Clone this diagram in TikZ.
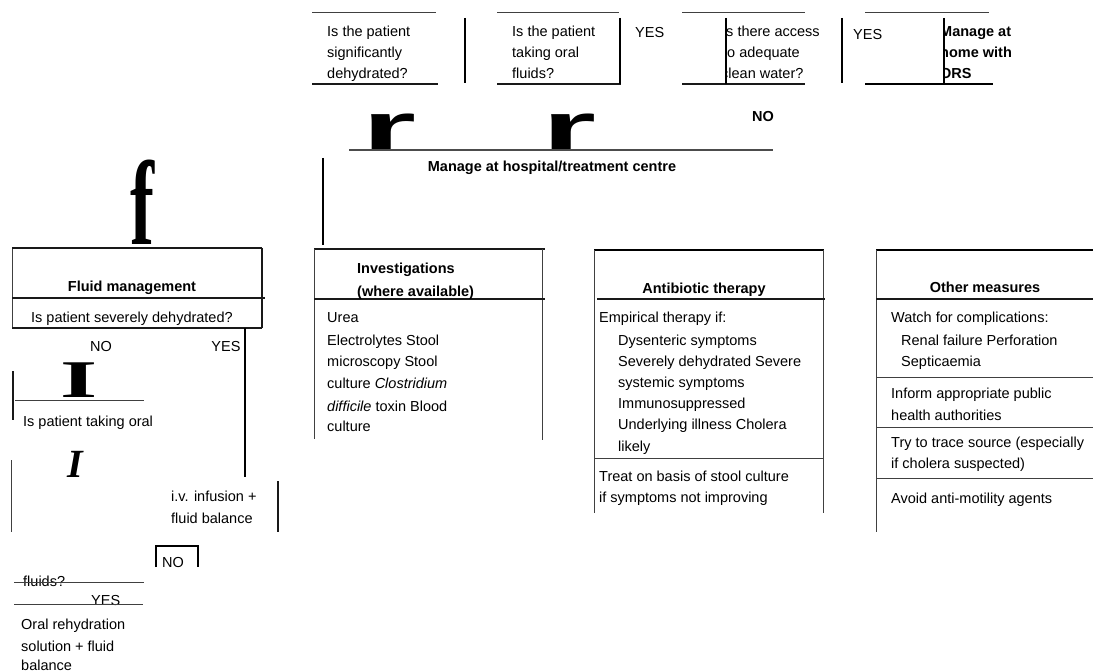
\documentclass[tikz,border=0pt]{standalone}
\usepackage{fontspec}
\setmainfont{Liberation Sans}
\newfontfamily\bigserif{Liberation Serif}
\begin{document}
\begin{tikzpicture}[x=1pt,y=-1pt,
  txt/.style={anchor=base west, inner sep=0pt, font=\fontsize{14.5}{17}\selectfont},
  btxt/.style={anchor=base west, inner sep=0pt, font=\fontsize{14.5}{17}\selectfont\bfseries},
  ctxt/.style={anchor=base, inner sep=0pt, font=\fontsize{14.5}{17}\selectfont},
  cbtxt/.style={anchor=base, inner sep=0pt, font=\fontsize{14.5}{17}\selectfont\bfseries},
  lnthin/.style={line width=0.8pt, draw=black!75},
  lnmed/.style={line width=1.3pt, draw=black!90},
  lnbold/.style={line width=2.4pt, draw=black},
  glyph/.style={anchor=base west, inner sep=0pt}]
\useasboundingbox (0,0) rectangle (1093,671);

% ---------- top row ----------
\draw[lnthin] (312,12) -- (436,12);
\draw[lnmed] (312,84) -- (438,84);
\draw[lnbold] (465,18) -- (465,83);
\node[txt] (q1a) at (327,37) {Is the patient};
\node[txt] (q1b) at (327,58) {significantly};
\node[txt] (q1c) at (327,79) {dehydrated?};

\draw[lnthin] (497,12) -- (619,12);
\draw[lnmed] (497,84) -- (621,84);
\draw[lnbold] (620,18) -- (620,84);
\node[txt] (q2a) at (512,37) {Is the patient};
\node[txt] (q2b) at (512,58) {taking oral};
\node[txt] (q2c) at (512,79) {fluids?};
\node[txt] (yes1) at (635,38) {YES};

\draw[lnthin] (682,12) -- (805,12);
\draw[lnmed] (682,84) -- (805,84);
\begin{scope}
  \clip (726,0) rectangle (842,100);
  \node[txt] (q3a) at (722,37) {Is there access};
  \node[txt] (q3b) at (723,58) {to adequate};
  \node[txt] (q3c) at (721,79) {clean water?};
\end{scope}
\draw[lnbold] (726,18) -- (726,84);
\draw[lnbold] (842,18) -- (842,83);
\node[txt] (yes2) at (853,40) {YES};

\draw[lnthin] (865,12) -- (989,12);
\begin{scope}
  \clip (944,0) rectangle (1093,100);
  \node[btxt] (h1) at (940,37) {Manage at};
  \node[btxt] (h2) at (940,58) {home with};
  \node[btxt] (h3) at (940,79) {ORS};
\end{scope}
\draw[lnbold] (944,18) -- (944,84);
\draw[line width=2pt] (865,84) -- (993,84);

\node[cbtxt] (no1) at (763,122) {NO};

% big glyphs
\node[glyph] (r1) at (362,150) {\scalebox{2.1}[1]{\fontsize{66}{66}\selectfont\bfseries r}};
\node[glyph] (r2) at (542,150) {\scalebox{2.1}[1]{\fontsize{66}{66}\selectfont\bfseries r}};
\draw[lnmed, draw=black!70] (349,150) -- (773,150);
\node[cbtxt] (hosp) at (552,172) {Manage at hospital/treatment centre};
\draw[line width=2pt] (323,158) -- (323,245);

\node[glyph] (f1) at (130,245) {\scalebox{0.6}[1]{\bigserif\fontsize{120}{120}\selectfont\bfseries f}};

% ---------- fluid management ----------
\draw[lnthin] (12,248) -- (12,328);
\draw[lnmed] (12,248) -- (262,248);
\draw[lnmed] (262,248) -- (262,328);
\draw[lnmed] (12,328) -- (262,328);
\draw[lnmed] (12,298) -- (265,298);
\node[cbtxt] (fm) at (132,292) {Fluid management};
\node[txt] (sev) at (31,323) {Is patient severely dehydrated?};
\node[ctxt] (no2) at (101,352) {NO};
\node[ctxt] (yes3) at (226,352) {YES};
\draw[line width=2.8pt] (245,328) -- (245,477);

\node[glyph] (bigI) at (60,397) {\scalebox{1.8}[1]{\bigserif\fontsize{53}{53}\selectfont\bfseries I}};
\draw[lnthin] (15,400) -- (144,400);
\draw[lnmed] (13,371) -- (13,420);
\node[txt] (oral) at (23,426) {Is patient taking oral};
\node[glyph] (itI) at (67,477) {\bigserif\fontsize{40}{40}\selectfont\bfseries\itshape I};
\draw[lnthin] (11,460) -- (11,532);
\draw[lnmed] (278,481) -- (278,532);
\node[txt] (iv1) at (171,501) {i.v. infusion +};
\node[txt] (iv2) at (171,523) {fluid balance};

\begin{scope}
  \clip (140,530) rectangle (215,567);
  \node[txt] (no3) at (162,567.5) {NO};
\end{scope}
\draw[lnbold] (156,567) -- (156,546) -- (198,546) -- (198,567);

\node[txt] (fl) at (23,586) {fluids?};
\draw[lnthin] (14,582) -- (144,582);
\node[txt] (yes4) at (91,605) {YES};
\draw[lnthin] (14,604) -- (143,604);
\node[txt] (ors1) at (21,629) {Oral rehydration};
\node[txt] (ors2) at (21,651) {solution + fluid};
\node[txt] (ors3) at (21,670) {balance};

% ---------- investigations ----------
\draw[lnmed] (314,249) -- (545,249);
\draw[lnthin] (314,249) -- (314,439);
\draw[lnthin] (542,249) -- (542,440);
\draw[lnmed] (314,299) -- (545,299);
\node[btxt] (inv1) at (357,273) {Investigations};
\node[btxt] (inv2) at (357,297) {(where available)};
\node[txt] (i1) at (327,323) {Urea};
\node[txt] (i2) at (327,345) {Electrolytes Stool};
\node[txt] (i3) at (327,366) {microscopy Stool};
\node[txt] (i4) at (327,388) {culture \textit{Clostridium}};
\node[txt] (i5) at (327,411) {\textit{difficile} toxin Blood};
\node[txt] (i6) at (327,431) {culture};

% ---------- antibiotic therapy ----------
\draw[line width=2pt] (594,250) -- (824,250);
\draw[lnthin] (594,250) -- (594,513);
\draw[lnthin] (823,250) -- (823,513);
\draw[lnmed] (597,299) -- (825,299);
\draw[lnthin] (594,458) -- (823,458);
\node[cbtxt] (ab) at (704,294) {Antibiotic therapy};
\node[txt] (a1) at (599,323) {Empirical therapy if:};
\node[txt] (a2) at (618,345) {Dysenteric symptoms};
\node[txt] (a3) at (618,366) {Severely dehydrated Severe};
\node[txt] (a4) at (618,387) {systemic symptoms};
\node[txt] (a5) at (618,408) {Immunosuppressed};
\node[txt] (a6) at (618,429) {Underlying illness Cholera};
\node[txt] (a7) at (618,451) {likely};
\node[txt] (a8) at (599,481) {Treat on basis of stool culture};
\node[txt] (a9) at (599,502) {if symptoms not improving};

% ---------- other measures ----------
\draw[line width=2pt] (876,250) -- (1093,250);
\draw[lnthin] (876,250) -- (876,532);
\draw[lnmed] (876,299) -- (1093,299);
\draw[lnthin] (876,377) -- (1093,377);
\draw[lnthin] (876,427) -- (1093,427);
\draw[lnthin] (876,478) -- (1093,478);
\node[cbtxt] (om) at (985,293) {Other measures};
\node[txt] (o1) at (891,323) {Watch for complications:};
\node[txt] (o2) at (901,345) {Renal failure Perforation};
\node[txt] (o3) at (901,366) {Septicaemia};
\node[txt] (o4) at (891,398) {Inform appropriate public};
\node[txt] (o5) at (891,420) {health authorities};
\node[txt] (o6) at (891,447) {Try to trace source (especially};
\node[txt] (o7) at (891,468) {if cholera suspected)};
\node[txt] (o8) at (891,503) {Avoid anti-motility agents};
\end{tikzpicture}
\end{document}
